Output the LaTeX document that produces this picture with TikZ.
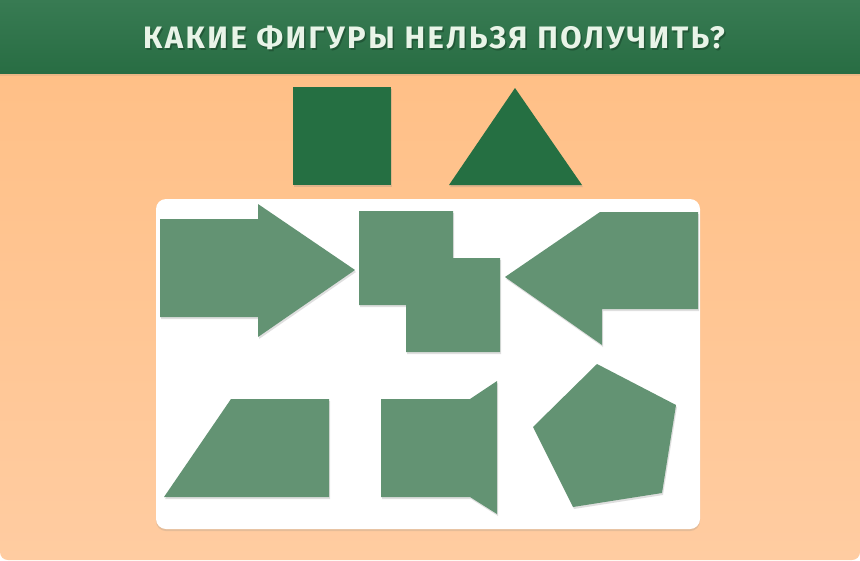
\documentclass[tikz,border=0pt]{standalone}
\usepackage{fontspec}
\newfontfamily\titlefont[LetterSpace=8]{Fira Sans}
\usepackage{tikz}
\usetikzlibrary{shadows}

\definecolor{bgtop}{HTML}{FFBE83}
\definecolor{bgbot}{HTML}{FFCCA1}
\definecolor{headtop}{HTML}{387B53}
\definecolor{headbot}{HTML}{286D43}
\definecolor{darkfig}{HTML}{256F42}
\definecolor{lightfig}{HTML}{639373}
\definecolor{titletext}{HTML}{E9F4E8}

\tikzset{
    sample/.style={fill=darkfig, drop shadow={shadow xshift=1pt, shadow yshift=-2pt, opacity=0.25}},
    piece/.style={fill=lightfig, drop shadow={shadow xshift=1pt, shadow yshift=-2pt, opacity=0.25}},
}

\begin{document}
\begin{tikzpicture}[x=1pt, y=-1pt]
    \useasboundingbox (0,0) rectangle (860,560);
    % --- background and header ---
    \fill[white] (0,0) rectangle (860,560);
    \shade[top color=bgtop, bottom color=bgbot, rounded corners=8pt] (0,0) rectangle (860,560);
    \shade[top color=headtop, bottom color=headbot,
        drop shadow={shadow xshift=0pt, shadow yshift=-3pt, opacity=0.15}] (0,0) rectangle (860,73);
    \node[text=headbot!70!black, opacity=0.7] (titleshade) at (435.5,39.5)
        {\titlefont\bfseries\fontsize{31}{34}\selectfont КАКИЕ ФИГУРЫ НЕЛЬЗЯ ПОЛУЧИТЬ?};
    \node[text=titletext] (title) at (434,38)
        {\titlefont\bfseries\fontsize{31}{34}\selectfont КАКИЕ ФИГУРЫ НЕЛЬЗЯ ПОЛУЧИТЬ?};
    % --- given figures ---
    \path[sample] (293,87) rectangle (391,185);
    \path[sample] (449,185) -- (515,88) -- (582,185) -- cycle;
    % --- white panel ---
    \fill[white, rounded corners=10pt,
        drop shadow={shadow xshift=0pt, shadow yshift=-2pt, opacity=0.2}] (156,199) rectangle (700,529);
    % --- top row ---
    \path[piece] (160,219) -- (258,219) -- (258,204) -- (355,270) -- (258,337) -- (258,317) -- (160,317) -- cycle;
    \path[piece] (359,211) -- (453,211) -- (453,258) -- (500,258) -- (500,352) -- (406,352) -- (406,305) -- (359,305) -- cycle;
    \path[piece] (505,277) -- (600,212) -- (698,212) -- (698,309) -- (602,309) -- (602,345) -- cycle;
    % --- bottom row ---
    \path[piece] (164,497) -- (231,399) -- (329,399) -- (329,497) -- cycle;
    \path[piece] (381,399) -- (470,399) -- (497,381) -- (497,514) -- (470,497) -- (381,497) -- cycle;
    \path[piece] (597,364) -- (676,405) -- (662,493) -- (573,507) -- (533,427) -- cycle;
\end{tikzpicture}
\end{document}
